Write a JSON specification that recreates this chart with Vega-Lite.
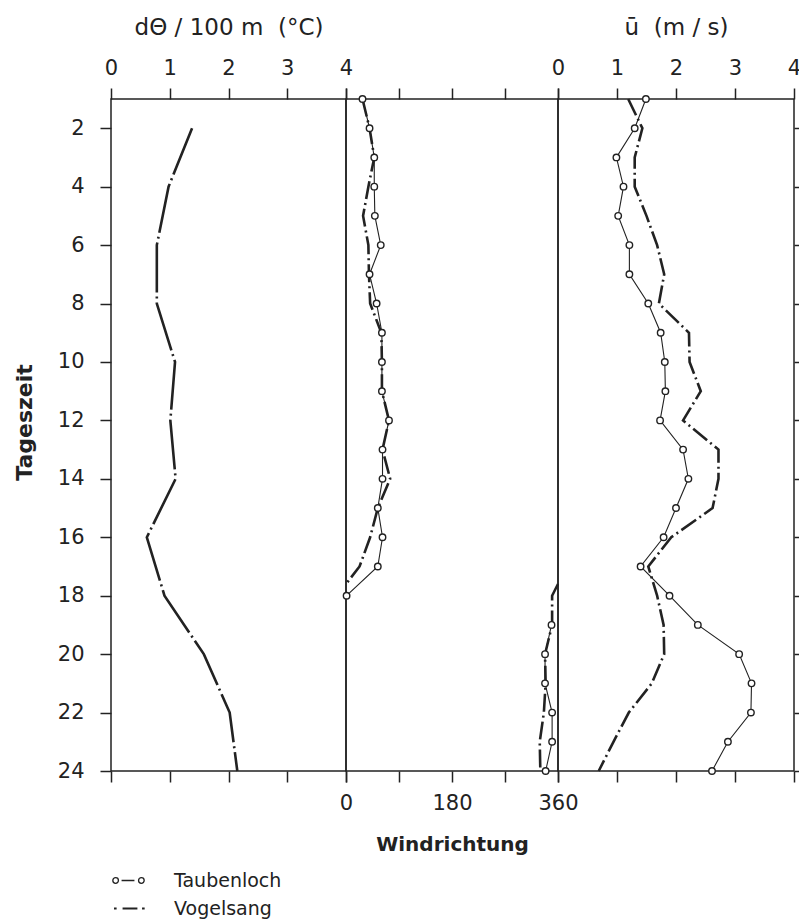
{
  "$schema": "https://vega.github.io/schema/vega-lite/v6.json",
  "padding": {"left": 12, "top": 15, "right": 0, "bottom": 0},
  "background": "white",
  "spacing": 0,
  "bounds": "flush",
  "config": {
    "view": {"stroke": "#222", "strokeWidth": 1.5},
    "font": "DejaVu Sans",
    "axis": {
      "domain": false, "grid": false, "tickColor": "#222", "tickWidth": 1.5, "tickSize": 11,
      "labelFont": "DejaVu Sans", "labelFontSize": 21, "labelColor": "#222", "titleColor": "#222",
      "titleFont": "DejaVu Sans", "labelFlush": false, "labelOverlap": false
    }
  },
  "datasets": {
    "theta": [
      {"h": 2, "dtheta": 1.38}, {"h": 4, "dtheta": 0.98}, {"h": 6, "dtheta": 0.78}, {"h": 8, "dtheta": 0.78},
      {"h": 10, "dtheta": 1.09}, {"h": 12, "dtheta": 1.01}, {"h": 14, "dtheta": 1.10}, {"h": 16, "dtheta": 0.61},
      {"h": 18, "dtheta": 0.91}, {"h": 20, "dtheta": 1.58}, {"h": 22, "dtheta": 2.02}, {"h": 24, "dtheta": 2.15}
    ],
    "dir": [
      {"station": "Taubenloch", "seg": "a", "h": 1, "deg": 28}, {"station": "Taubenloch", "seg": "a", "h": 2, "deg": 40},
      {"station": "Taubenloch", "seg": "a", "h": 3, "deg": 48}, {"station": "Taubenloch", "seg": "a", "h": 4, "deg": 48},
      {"station": "Taubenloch", "seg": "a", "h": 5, "deg": 49}, {"station": "Taubenloch", "seg": "a", "h": 6, "deg": 59},
      {"station": "Taubenloch", "seg": "a", "h": 7, "deg": 40}, {"station": "Taubenloch", "seg": "a", "h": 8, "deg": 52},
      {"station": "Taubenloch", "seg": "a", "h": 9, "deg": 61}, {"station": "Taubenloch", "seg": "a", "h": 10, "deg": 61},
      {"station": "Taubenloch", "seg": "a", "h": 11, "deg": 61}, {"station": "Taubenloch", "seg": "a", "h": 12, "deg": 73},
      {"station": "Taubenloch", "seg": "a", "h": 13, "deg": 62}, {"station": "Taubenloch", "seg": "a", "h": 14, "deg": 62},
      {"station": "Taubenloch", "seg": "a", "h": 15, "deg": 54}, {"station": "Taubenloch", "seg": "a", "h": 16, "deg": 62},
      {"station": "Taubenloch", "seg": "a", "h": 17, "deg": 54}, {"station": "Taubenloch", "seg": "a", "h": 18, "deg": 1},
      {"station": "Taubenloch", "seg": "b", "h": 19, "deg": 349}, {"station": "Taubenloch", "seg": "b", "h": 20, "deg": 338},
      {"station": "Taubenloch", "seg": "b", "h": 21, "deg": 338}, {"station": "Taubenloch", "seg": "b", "h": 22, "deg": 350},
      {"station": "Taubenloch", "seg": "b", "h": 23, "deg": 350}, {"station": "Taubenloch", "seg": "b", "h": 24, "deg": 339},
      {"station": "Vogelsang", "seg": "a", "h": 1, "deg": 28}, {"station": "Vogelsang", "seg": "a", "h": 2, "deg": 40},
      {"station": "Vogelsang", "seg": "a", "h": 3, "deg": 48}, {"station": "Vogelsang", "seg": "a", "h": 4, "deg": 38},
      {"station": "Vogelsang", "seg": "a", "h": 5, "deg": 29}, {"station": "Vogelsang", "seg": "a", "h": 6, "deg": 38},
      {"station": "Vogelsang", "seg": "a", "h": 7, "deg": 39}, {"station": "Vogelsang", "seg": "a", "h": 8, "deg": 41},
      {"station": "Vogelsang", "seg": "a", "h": 9, "deg": 60}, {"station": "Vogelsang", "seg": "a", "h": 10, "deg": 61},
      {"station": "Vogelsang", "seg": "a", "h": 11, "deg": 61}, {"station": "Vogelsang", "seg": "a", "h": 12, "deg": 73},
      {"station": "Vogelsang", "seg": "a", "h": 13, "deg": 62}, {"station": "Vogelsang", "seg": "a", "h": 14, "deg": 75},
      {"station": "Vogelsang", "seg": "a", "h": 15, "deg": 54}, {"station": "Vogelsang", "seg": "a", "h": 16, "deg": 41},
      {"station": "Vogelsang", "seg": "a", "h": 17, "deg": 23}, {"station": "Vogelsang", "seg": "a", "h": 17.6, "deg": 0},
      {"station": "Vogelsang", "seg": "b", "h": 17.6, "deg": 360}, {"station": "Vogelsang", "seg": "b", "h": 18, "deg": 350},
      {"station": "Vogelsang", "seg": "b", "h": 19, "deg": 350}, {"station": "Vogelsang", "seg": "b", "h": 20, "deg": 338},
      {"station": "Vogelsang", "seg": "b", "h": 21, "deg": 339}, {"station": "Vogelsang", "seg": "b", "h": 22, "deg": 336},
      {"station": "Vogelsang", "seg": "b", "h": 23, "deg": 329}, {"station": "Vogelsang", "seg": "b", "h": 24, "deg": 330}
    ],
    "wind": [
      {"station": "Taubenloch", "h": 1, "u": 1.49}, {"station": "Taubenloch", "h": 2, "u": 1.30},
      {"station": "Taubenloch", "h": 3, "u": 0.99}, {"station": "Taubenloch", "h": 4, "u": 1.11},
      {"station": "Taubenloch", "h": 5, "u": 1.02}, {"station": "Taubenloch", "h": 6, "u": 1.21},
      {"station": "Taubenloch", "h": 7, "u": 1.21}, {"station": "Taubenloch", "h": 8, "u": 1.53},
      {"station": "Taubenloch", "h": 9, "u": 1.74}, {"station": "Taubenloch", "h": 10, "u": 1.81},
      {"station": "Taubenloch", "h": 11, "u": 1.82}, {"station": "Taubenloch", "h": 12, "u": 1.73},
      {"station": "Taubenloch", "h": 13, "u": 2.12}, {"station": "Taubenloch", "h": 14, "u": 2.21},
      {"station": "Taubenloch", "h": 15, "u": 2.00}, {"station": "Taubenloch", "h": 16, "u": 1.79},
      {"station": "Taubenloch", "h": 17, "u": 1.40}, {"station": "Taubenloch", "h": 18, "u": 1.89},
      {"station": "Taubenloch", "h": 19, "u": 2.37}, {"station": "Taubenloch", "h": 20, "u": 3.07},
      {"station": "Taubenloch", "h": 21, "u": 3.28}, {"station": "Taubenloch", "h": 22, "u": 3.27},
      {"station": "Taubenloch", "h": 23, "u": 2.88}, {"station": "Taubenloch", "h": 24, "u": 2.61},
      {"station": "Vogelsang", "h": 1, "u": 1.19}, {"station": "Vogelsang", "h": 2, "u": 1.43},
      {"station": "Vogelsang", "h": 3, "u": 1.30}, {"station": "Vogelsang", "h": 4, "u": 1.30},
      {"station": "Vogelsang", "h": 5, "u": 1.50}, {"station": "Vogelsang", "h": 6, "u": 1.68},
      {"station": "Vogelsang", "h": 7, "u": 1.80}, {"station": "Vogelsang", "h": 8, "u": 1.71},
      {"station": "Vogelsang", "h": 9, "u": 2.22}, {"station": "Vogelsang", "h": 10, "u": 2.23},
      {"station": "Vogelsang", "h": 11, "u": 2.42}, {"station": "Vogelsang", "h": 12, "u": 2.12},
      {"station": "Vogelsang", "h": 13, "u": 2.72}, {"station": "Vogelsang", "h": 14, "u": 2.72},
      {"station": "Vogelsang", "h": 15, "u": 2.62}, {"station": "Vogelsang", "h": 16, "u": 1.92},
      {"station": "Vogelsang", "h": 17, "u": 1.53}, {"station": "Vogelsang", "h": 18, "u": 1.68},
      {"station": "Vogelsang", "h": 19, "u": 1.79}, {"station": "Vogelsang", "h": 20, "u": 1.80},
      {"station": "Vogelsang", "h": 21, "u": 1.59}, {"station": "Vogelsang", "h": 22, "u": 1.20},
      {"station": "Vogelsang", "h": 23, "u": 0.94}, {"station": "Vogelsang", "h": 24, "u": 0.69}
    ]
  },
  "hconcat": [
    {
      "width": 235, "height": 672,
      "data": {"name": "theta"},
      "encoding": {
        "y": {"field": "h", "type": "quantitative",
              "scale": {"domain": [1, 24], "reverse": true, "nice": false, "zero": false},
              "axis": {"orient": "left", "values": [2,4,6,8,10,12,14,16,18,20,22,24], "labelPadding": 16,
                       "title": "Tageszeit", "titleFontSize": 22, "titleFontWeight": "bold", "titlePadding": 21, "titleY": 323}}
      },
      "layer": [
        {
          "mark": {"type": "line", "stroke": "#222", "strokeWidth": 2.6, "strokeDash": [50, 4, 2, 4]},
          "encoding": {
            "x": {"field": "dtheta", "type": "quantitative", "scale": {"domain": [0, 4], "nice": false, "zero": false},
                  "axis": {"orient": "top", "values": [0,1,2,3,4], "format": "d", "labelPadding": 10,
                           "title": "dΘ / 100 m\u00a0\u00a0(°C)", "titleFontSize": 23, "titleFontWeight": "normal", "titlePadding": 18}},
            "order": {"field": "h"}
          }
        },
        {
          "mark": {"type": "point", "opacity": 0},
          "encoding": {
            "x": {"field": "dtheta", "type": "quantitative",
                  "axis": {"orient": "bottom", "values": [0,1,2,3,4], "labels": false, "title": null}}
          }
        }
      ],
      "resolve": {"axis": {"x": "independent"}}
    },
    {
      "width": 212, "height": 672,
      "data": {"name": "dir"},
      "encoding": {
        "y": {"field": "h", "type": "quantitative",
              "scale": {"domain": [1, 24], "reverse": true, "nice": false, "zero": false}, "axis": null}
      },
      "layer": [
        {
          "transform": [{"filter": "datum.station == 'Vogelsang'"}],
          "mark": {"type": "line", "stroke": "#222", "strokeWidth": 2.6, "strokeDash": [18, 4, 2, 4]},
          "encoding": {
            "x": {"field": "deg", "type": "quantitative", "scale": {"domain": [0, 360], "nice": false, "zero": false},
                  "axis": {"orient": "top", "values": [0,90,180,270,360], "labels": false, "title": null}},
            "detail": {"field": "seg"},
            "order": {"field": "h"}
          }
        },
        {
          "transform": [{"filter": "datum.station == 'Taubenloch'"}],
          "mark": {"type": "line", "stroke": "#222", "strokeWidth": 1.1},
          "encoding": {
            "x": {"field": "deg", "type": "quantitative",
                  "axis": {"orient": "bottom", "values": [0,90,180,270,360], "labelPadding": 10,
                           "labelExpr": "datum.value % 180 == 0 ? datum.label : ''",
                           "title": "Windrichtung", "titleFontSize": 20, "titleFontWeight": "bold", "titlePadding": 21}},
            "detail": {"field": "seg"},
            "order": {"field": "h"}
          }
        },
        {
          "transform": [{"filter": "datum.station == 'Taubenloch'"}],
          "mark": {"type": "point", "shape": "circle", "filled": true, "fill": "white", "stroke": "#222", "strokeWidth": 1.4, "size": 42, "opacity": 1},
          "encoding": {"x": {"field": "deg", "type": "quantitative", "axis": null}}
        },
        {
          "mark": {"type": "point", "opacity": 0},
          "encoding": {
            "x": {"field": "deg", "type": "quantitative", "axis": null},
            "shape": {"field": "station", "type": "nominal",
                      "scale": {"domain": ["Taubenloch", "Vogelsang"],
                                "range": ["M-0.95,0 A0.17,0.17 0 1,1 -0.61,0 A0.17,0.17 0 1,1 -0.95,0 M-0.42,0 L0.36,0 M0.61,0 A0.17,0.17 0 1,1 0.95,0 A0.17,0.17 0 1,1 0.61,0",
                                          "M-0.84,-0.025 L-0.76,-0.025 L-0.76,0.025 L-0.84,0.025 Z M-0.32,-0.025 L0.5,-0.025 L0.5,0.025 L-0.32,0.025 Z M0.86,-0.025 L0.94,-0.025 L0.94,0.025 L0.86,0.025 Z"]},
                      "legend": {"title": null, "orient": "none", "legendX": 0, "legendY": 764,
                                 "symbolSize": 1089, "symbolStrokeColor": "#222", "symbolFillColor": "transparent",
                                 "symbolStrokeWidth": 1.3, "symbolOpacity": 1, "labelFontSize": 19, "labelFont": "DejaVu Sans",
                                 "labelColor": "#222", "labelOffset": 28, "rowPadding": -5, "padding": 0}}
          }
        }
      ],
      "resolve": {"axis": {"x": "independent"}}
    },
    {
      "width": 236, "height": 672,
      "data": {"name": "wind"},
      "encoding": {
        "y": {"field": "h", "type": "quantitative",
              "scale": {"domain": [1, 24], "reverse": true, "nice": false, "zero": false},
              "axis": {"orient": "right", "values": [2,4,6,8,10,12,14,16,18,20,22,24], "labels": false, "title": null}}
      },
      "layer": [
        {
          "transform": [{"filter": "datum.station == 'Vogelsang'"}],
          "mark": {"type": "line", "stroke": "#222", "strokeWidth": 2.6, "strokeDash": [18, 4, 2, 4]},
          "encoding": {
            "x": {"field": "u", "type": "quantitative", "scale": {"domain": [0, 4], "nice": false, "zero": false},
                  "axis": {"orient": "top", "values": [0,1,2,3,4], "format": "d", "labelPadding": 10,
                           "title": "ū\u00a0\u00a0(m / s)", "titleFontSize": 23, "titleFontWeight": "normal", "titlePadding": 18}},
            "order": {"field": "h"}
          }
        },
        {
          "transform": [{"filter": "datum.station == 'Taubenloch'"}],
          "mark": {"type": "line", "stroke": "#222", "strokeWidth": 1.1},
          "encoding": {
            "x": {"field": "u", "type": "quantitative",
                  "axis": {"orient": "bottom", "values": [0,1,2,3,4], "labels": false, "title": null}},
            "order": {"field": "h"}
          }
        },
        {
          "transform": [{"filter": "datum.station == 'Taubenloch'"}],
          "mark": {"type": "point", "shape": "circle", "filled": true, "fill": "white", "stroke": "#222", "strokeWidth": 1.4, "size": 42, "opacity": 1},
          "encoding": {"x": {"field": "u", "type": "quantitative", "axis": null}}
        }
      ],
      "resolve": {"axis": {"x": "independent"}}
    }
  ]
}
